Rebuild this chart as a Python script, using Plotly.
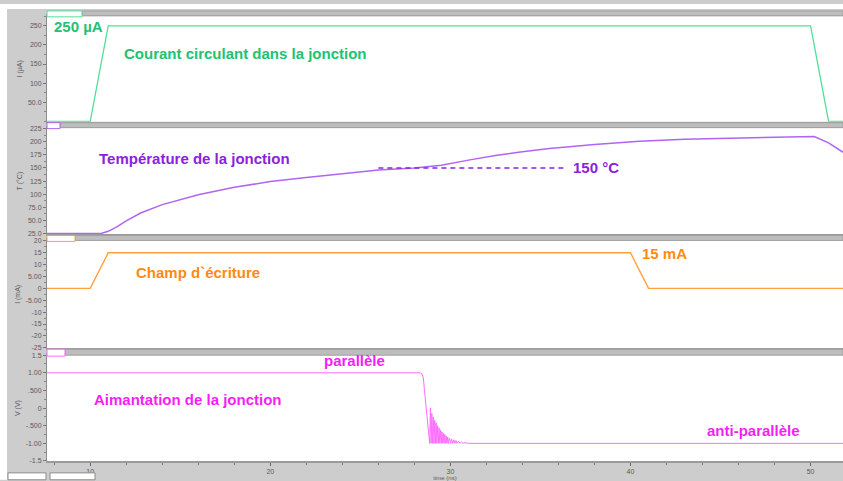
import plotly.graph_objects as go

# ---- data ----
t_range = [7.6, 51.8]

# junction current (uA)
cur_t = [7.6, 10.0, 11.0, 50.0, 51.0, 51.8]
cur_v = [0, 0, 250, 250, 0, 0]

# junction temperature (degC)
temp_t = [7.6, 10.6, 11.0, 11.5, 12.0, 12.8, 14.0, 15.0, 16.0, 18.0, 20.0, 22.0, 24.0,
          26.0, 28.0, 29.5, 31.0, 32.5, 34.0, 35.5, 38.0, 40.5, 43.0, 46.0, 49.0,
          50.2, 51.0, 51.8]
temp_v = [25, 25, 29, 38, 49, 64, 80, 90, 99, 113, 124, 132, 139,
          146, 150, 155, 165, 174, 181, 187, 195, 201, 205, 207, 209,
          210, 198, 180]
ref_t = [26.0, 36.5]
ref_v = [150, 150]

# write field current (mA)
fld_t = [7.6, 10.0, 11.0, 40.0, 41.0, 51.8]
fld_v = [0, 0, 15, 15, 0, 0]

# junction magnetisation (V)
mag_t = [7.6, 28.30, 28.42, 28.50, 28.56, 28.62, 28.68, 28.74, 28.80, 28.85,
         28.89, 28.93, 28.97, 29.01, 29.05, 29.09, 29.13, 29.17, 29.21, 29.25,
         29.29, 29.33, 29.37, 29.41, 29.45, 29.49, 29.53, 29.57, 29.61, 29.65,
         29.69, 29.73, 29.77, 29.81, 29.85, 29.89, 29.95, 30.01, 30.07, 30.13,
         30.19, 30.25, 30.31, 30.37, 30.45, 30.53, 30.61, 30.69, 30.80, 31.00, 51.8]
mag_v = [1.0, 1.0, 0.97, 0.85, 0.5, 0.2, -0.1, -0.5, -0.85, -1.0,
         0.0, -1.0, -0.15, -1.0, -0.25, -1.0, -0.35, -1.0, -0.42, -1.0,
         -0.5, -1.0, -0.56, -1.0, -0.62, -1.0, -0.67, -1.0, -0.71, -1.0,
         -0.75, -1.0, -0.79, -1.0, -0.82, -1.0, -0.85, -1.0, -0.88, -1.0,
         -0.9, -1.0, -0.92, -1.0, -0.94, -1.0, -0.96, -1.0, -0.98, -1.0, -1.0]

# tick labels
cur_ticks = [50, 100, 150, 200, 250]
cur_labels = ["50.0", "100", "150", "200", "250"]
temp_ticks = [25, 50, 75, 100, 125, 150, 175, 200, 225]
temp_labels = ["25.0", "50.0", "75.0", "100", "125", "150", "175", "200", "225"]
fld_ticks = [-25, -20, -15, -10, -5, 0, 5, 10, 15, 20]
fld_labels = ["-25", "-20", "-15", "-10", "-5.00", "0", "5.00", "10", "15", "20"]
mag_ticks = [-1.5, -1.0, -0.5, 0, 0.5, 1.0, 1.5]
mag_labels = ["-1.5", "-1.00", "-.500", "0", ".500", "1.00", "1.5"]
time_ticks = [10, 20, 30, 40, 50]

# ---- colours ----
GREEN_L, GREEN_T = "#4fe09a", "#21c272"
PURP_L, PURP_T = "#b065f2", "#8a22dc"
ORNG_L, ORNG_T = "#ffa040", "#ff8a10"
MAG_L, MAG_T = "#ff6cff", "#f51ef5"
GRAY = "#cdcdcd"

W, H = 843, 481
ML, MB = 47, 19
PH = H - MB
PW = W - ML


def px(x):
    return (x - ML) / PW


def py(y):
    return 1 - y / PH


def dom(top, bottom):
    return [py(bottom), py(top)]


fig = go.Figure()

panels = [
    (cur_t, cur_v, GREEN_L, 1.3),
    (temp_t, temp_v, PURP_L, 1.5),
    (fld_t, fld_v, ORNG_L, 1.4),
    (mag_t, mag_v, MAG_L, 1.0),
]
for i, (tx, vy, col, lw) in enumerate(panels, start=1):
    fig.add_trace(go.Scatter(
        x=tx, y=vy, mode="lines", line=dict(color=col, width=lw),
        xaxis=f"x{i if i > 1 else ''}", yaxis=f"y{i if i > 1 else ''}",
        showlegend=False, hoverinfo="skip"))

# 150 degC reference level
fig.add_trace(go.Scatter(
    x=ref_t, y=ref_v, mode="lines", line=dict(color=PURP_T, width=1.6, dash="5px,4px"),
    xaxis="x2", yaxis="y2", showlegend=False, hoverinfo="skip"))

tick_font = dict(family="Liberation Sans", size=7, color="#5a5a5a")
title_font = dict(family="Liberation Sans", size=7, color="#5a5a5a")

domains = [dom(12, 119), dom(125, 233), dom(239, 348), dom(355, 462)]
yspecs = [
    ([-1, 276], cur_ticks, cur_labels, "I (µA)", 25),
    ([23, 227], temp_ticks, temp_labels, "T (°C)", 12.5),
    ([-25.2, 20.2], fld_ticks, fld_labels, "I (mA)", 2.5),
    ([-1.5, 1.5], mag_ticks, mag_labels, "V (V)", 0.25),
]

layout = dict(
    width=W, height=H,
    margin=dict(l=ML, r=0, t=0, b=MB),
    paper_bgcolor=GRAY, plot_bgcolor="white",
    showlegend=False,
)
for i in range(1, 5):
    sfx = "" if i == 1 else str(i)
    rng, tv, tt, ttl, mdt = yspecs[i - 1]
    layout[f"yaxis{sfx}"] = dict(
        domain=domains[i - 1], range=rng, anchor=f"x{sfx}",
        tickvals=tv, ticktext=tt, ticks="outside", ticklen=3, tickwidth=1,
        tickcolor="#777", tickfont=tick_font, showgrid=False, zeroline=False,
        showline=True, linecolor="#8c8c8c", linewidth=1,
        minor=dict(dtick=mdt, ticks="outside", ticklen=2, tickcolor="#888"),
        title=dict(text=ttl, font=title_font, standoff=4),
    )
    last = i == 4
    layout[f"xaxis{sfx}"] = dict(
        domain=[0, 1], range=t_range, anchor=f"y{sfx}",
        matches=None if i == 1 else "x",
        showgrid=False, zeroline=False,
        showline=True, linecolor="#9a9a9a", linewidth=2, mirror=True,
        tickvals=time_ticks, ticks="outside" if last else "", ticklen=3,
        tickcolor="#666", showticklabels=last, tickfont=tick_font,
        minor=dict(dtick=2, tick0=10, ticks="outside", ticklen=2, tickcolor="#777") if last else None,
        title=dict(text="time (ns)", font=dict(family="Liberation Sans", size=6, color="#5a5a5a"),
                   standoff=1) if last else None,
    )
fig.update_layout(**layout)

shapes = []
# outer white border strips
shapes.append(dict(type="rect", xref="paper", yref="paper", x0=px(0), x1=px(7), y0=py(H), y1=py(0),
                   fillcolor="white", line_width=0, layer="below"))
shapes.append(dict(type="rect", xref="paper", yref="paper", x0=px(0), x1=px(W), y0=py(5), y1=py(0),
                   fillcolor="white", line_width=0, layer="below"))
# header bars with coloured tabs
tabs = [(7, 12, 82, GREEN_L), (120, 125, 60, PURP_L), (234, 239, 75, ORNG_L), (349, 355, 65, MAG_L)]
for top, bot, tab_r, col in tabs:
    shapes.append(dict(type="rect", xref="paper", yref="paper", x0=px(tab_r), x1=px(W),
                       y0=py(bot), y1=py(top), fillcolor="#bdbdbd",
                       line=dict(color="#a0a0a0", width=1)))
    shapes.append(dict(type="rect", xref="paper", yref="paper", x0=px(ML), x1=px(tab_r),
                       y0=py(bot + 1), y1=py(top), fillcolor="white",
                       line=dict(color=col, width=1)))
# status boxes under the time axis
for x0, x1 in [(8, 46), (50, 95)]:
    shapes.append(dict(type="rect", xref="paper", yref="paper", x0=px(x0), x1=px(x1),
                       y0=py(481), y1=py(474), fillcolor="white",
                       line=dict(color="#8a8a8a", width=1)))
fig.update_layout(shapes=shapes)

ann_font = "Liberation Sans"
notes = [
    ("250 µA", 52, 23, GREEN_T),
    ("Courant circulant dans la jonction", 122, 50, GREEN_T),
    ("Température de la jonction", 97, 156, PURP_T),
    ("150 °C", 571, 165, PURP_T),
    ("15 mA", 640, 252, ORNG_T),
    ("Champ d`écriture", 134, 271, ORNG_T),
    ("parallèle", 322, 360, MAG_T),
    ("Aimantation de la jonction", 92, 400, MAG_T),
    ("anti-parallèle", 705, 431, MAG_T),
]
for txt, x, y, col in notes:
    fig.add_annotation(text=f"<b>{txt}</b>", xref="paper", yref="paper", x=px(x), y=py(y),
                       xanchor="left", yanchor="middle", showarrow=False,
                       font=dict(family=ann_font, size=15, color=col))

fig.write_html("out.html")
